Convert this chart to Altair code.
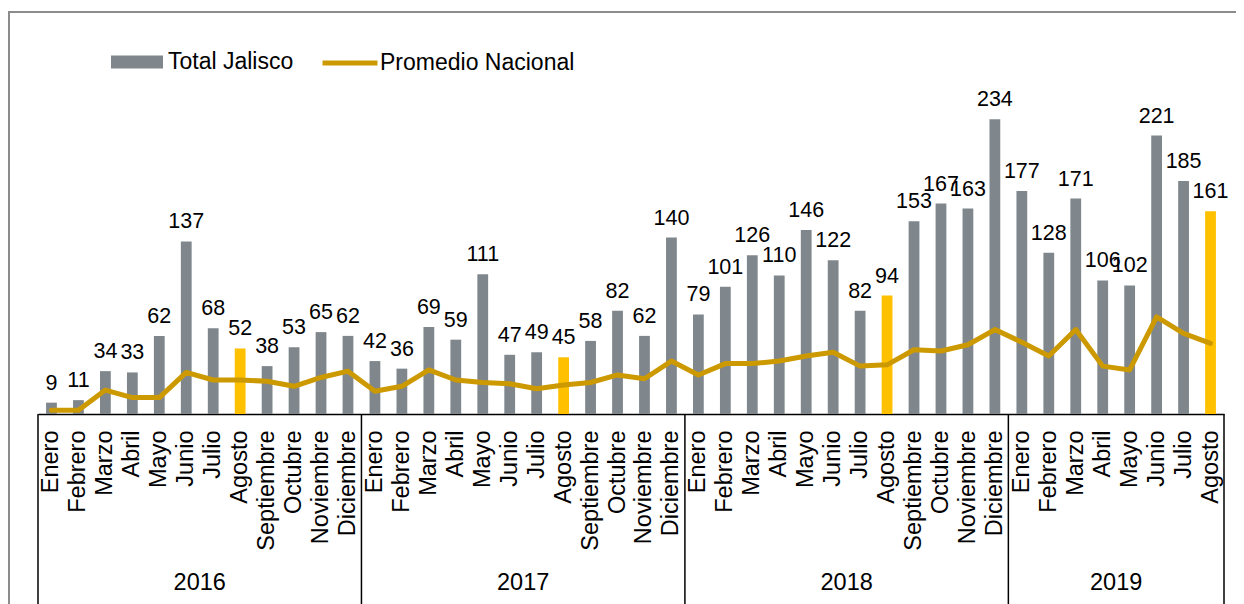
import altair as alt
import pandas as pd

# ---------------- data ----------------
years = ["2016", "2017", "2018", "2019"]
months = ["Enero", "Febrero", "Marzo", "Abril", "Mayo", "Junio", "Julio",
          "Agosto", "Septiembre", "Octubre", "Noviembre", "Diciembre"]
months_per_year = [12, 12, 12, 8]

total_jalisco = [
    9, 11, 34, 33, 62, 137, 68, 52, 38, 53, 65, 62,
    42, 36, 69, 59, 111, 47, 49, 45, 58, 82, 62, 140,
    79, 101, 126, 110, 146, 122, 82, 94, 153, 167, 163, 234,
    177, 128, 171, 106, 102, 221, 185, 161,
]
promedio_nacional = [
    3, 3, 19, 13, 13, 33, 27, 27, 26, 22, 29, 34,
    18, 22, 35, 27, 25, 24, 20, 23, 25, 31, 28, 42,
    31, 40, 40, 42, 46, 49, 38, 39, 51, 50, 55, 67,
    57, 46, 67, 38, 35, 77, 64, 56,
]

cats, mlist, ylist = [], [], []
for y, n in zip(years, months_per_year):
    for m in months[:n]:
        cats.append(f"{y}-{m}")
        mlist.append(m)
        ylist.append(y)

df = pd.DataFrame({
    "cat": cats, "mes": mlist, "anio": ylist,
    "total": total_jalisco, "prom": promedio_nacional,
    "serie_bar": "Total Jalisco", "serie_line": "Promedio Nacional",
})

# year label positions (center of each year group)
year_mid = []
for y, n in zip(years, months_per_year):
    year_mid.append(f"{y}-{months[n // 2 - 1]}")
df_years = pd.DataFrame({"anio": years, "mid": year_mid})
df_starts = pd.DataFrame({"cat": [f"{y}-Enero" for y in years]})
df_end = pd.DataFrame({"cat": [cats[-1]]})
df_one = pd.DataFrame({"a": [0]})

# ---------------- layout ----------------
W, H = 1186, 315
BOTTOM = 190
STEP = W / len(cats)
FONT = "Liberation Sans"
GRAY = "#7F878C"
GOLD_LINE = "#CC9900"
GOLD_BAR = "#FFC000"

xscale = alt.Scale(domain=cats, paddingInner=0.6, paddingOuter=0.3)
xenc = alt.X(
    "cat:N", title=None, scale=xscale,
    axis=alt.Axis(
        labelExpr="split(datum.value, '-')[1]",
        labelAngle=270, labelAlign="right", labelBaseline="middle",
        ticks=False, tickSize=0, labelPadding=16,
        domainColor="black", domainWidth=1.5,
        labelFontSize=23.5, labelColor="black", labelFont=FONT,
        labelOverlap=False, labelLimit=300, grid=False,
    ),
)
yscale = alt.Scale(domain=[0, 250], nice=False)

base = alt.Chart(df)

bars = base.mark_bar().encode(
    x=xenc,
    y=alt.Y("total:Q", scale=yscale, axis=None),
    color=alt.condition(
        "datum.mes == 'Agosto'",
        alt.value(GOLD_BAR),
        alt.Color(
            "serie_bar:N",
            scale=alt.Scale(domain=["Total Jalisco"], range=[GRAY]),
            legend=alt.Legend(
                title=None, orient="none", legendX=73, legendY=-63,
                symbolType="M-1,-0.25H1V0.25H-1Z", symbolSize=2704,
                symbolStrokeWidth=0, symbolOpacity=1,
                labelFontSize=23, labelFont=FONT, labelColor="black",
                labelOffset=5, padding=0, labelLimit=300,
            ),
        ),
    ),
)

labels = base.mark_text(
    baseline="alphabetic", dy=-13, fontSize=21.5, font=FONT, color="black"
).encode(
    x=alt.X("cat:N", scale=xscale),
    y=alt.Y("total:Q", scale=yscale),
    text="total:Q",
)

line = base.mark_line(strokeWidth=5, strokeCap="round", strokeJoin="round").encode(
    x=alt.X("cat:N", scale=xscale),
    y=alt.Y("prom:Q", scale=yscale),
    color=alt.Color(
        "serie_line:N",
        scale=alt.Scale(domain=["Promedio Nacional"], range=[GOLD_LINE]),
        legend=alt.Legend(
            title=None, orient="none", legendX=282, legendY=-66,
            symbolType="stroke", symbolSize=3025, symbolStrokeWidth=5,
            labelFontSize=23, labelFont=FONT, labelColor="black",
            labelOffset=0, padding=0, labelLimit=300,
        ),
    ),
)

year_text = alt.Chart(df_years).mark_text(
    fontSize=23.5, font=FONT, color="black", baseline="middle", dx=STEP / 2
).encode(
    x=alt.X("mid:N", scale=xscale),
    y=alt.value(H + 169),
    text="anio:N",
)

sep_start = alt.Chart(df_starts).mark_rule(
    color="black", strokeWidth=1.5, xOffset=-STEP / 2
).encode(
    x=alt.X("cat:N", scale=xscale),
    y=alt.value(H), y2=alt.value(H + BOTTOM),
)
sep_end = alt.Chart(df_end).mark_rule(
    color="black", strokeWidth=1.5, xOffset=STEP / 2
).encode(
    x=alt.X("cat:N", scale=xscale),
    y=alt.value(H), y2=alt.value(H + BOTTOM),
)

frame_left = alt.Chart(df_one).mark_rule(color="#8C8C8C", strokeWidth=2).encode(
    x=alt.value(-29), y=alt.value(-87), y2=alt.value(H + BOTTOM)
)
frame_top = alt.Chart(df_one).mark_rule(color="#8C8C8C", strokeWidth=2).encode(
    x=alt.value(-30), x2=alt.value(W + 12), y=alt.value(-87)
)

chart = alt.layer(
    frame_left, frame_top, bars, line, labels, year_text, sep_start, sep_end
).resolve_scale(color="independent").properties(
    width=W, height=H,
    autosize=alt.AutoSizeParams(type="none"),
    padding={"left": 30, "top": 91, "right": 12, "bottom": BOTTOM},
).configure_view(stroke="transparent", strokeWidth=0)

chart.save("out.html", embed_options={"renderer": "svg", "actions": False})
